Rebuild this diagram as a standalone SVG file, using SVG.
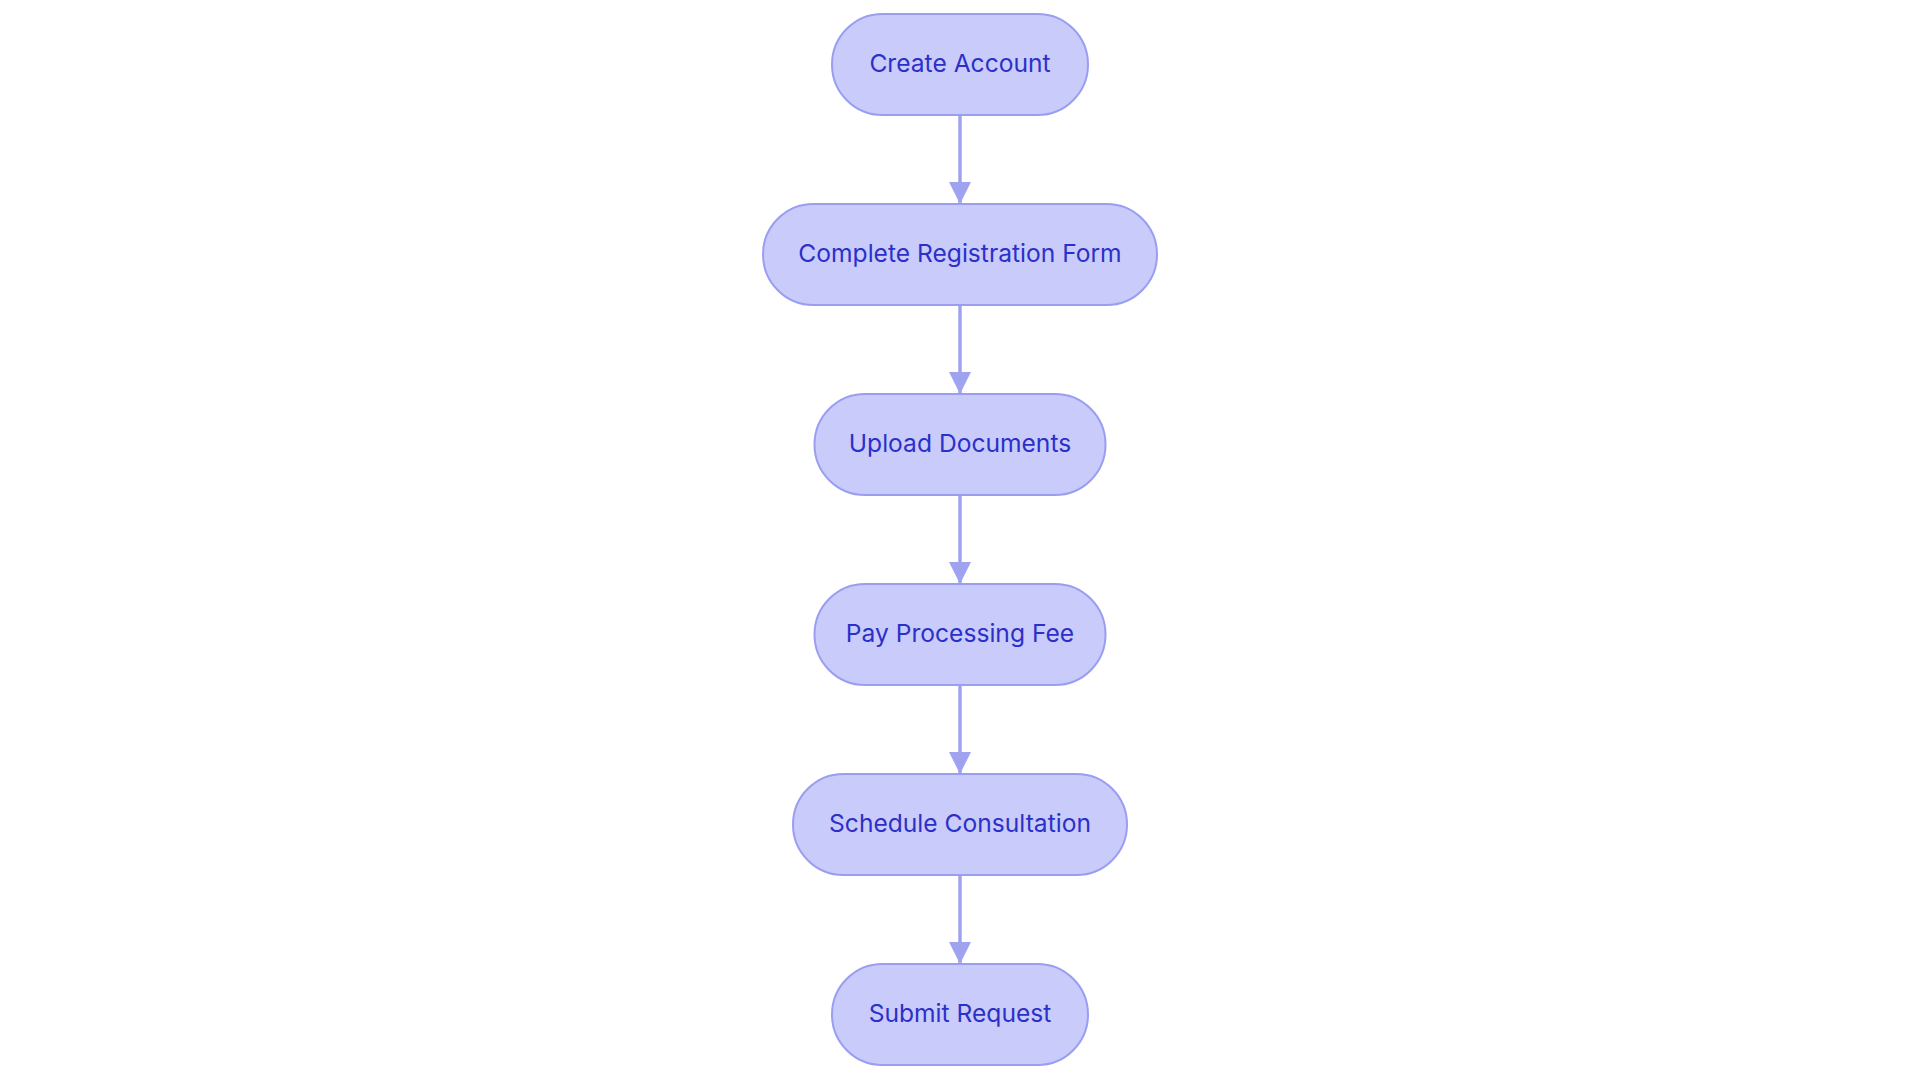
<svg xmlns="http://www.w3.org/2000/svg" width="1920" height="1083" viewBox="0 0 1920 1083">
<style>
.node rect{fill:#c9cbfb;stroke:#9a9ef0;stroke-width:2}
.node text{fill:#2b30c8;font-family:Inter,"Noto Sans",sans-serif;font-size:24.6px;font-weight:400;text-anchor:middle}
.edge{stroke:#9fa3ef;stroke-width:3.5;fill:none}
</style>
<defs>
<marker id="arrow" markerUnits="userSpaceOnUse" markerWidth="24" markerHeight="24" refX="22" refY="11" orient="auto">
<path d="M0,0 L22,11 L0,22 Z" fill="#9fa3ef"/>
</marker>
</defs>
<rect width="1920" height="1083" fill="#ffffff"/>
<g id="connectors">
<line class="edge" x1="960" y1="115" x2="960" y2="204" marker-end="url(#arrow)"/>
<line class="edge" x1="960" y1="305" x2="960" y2="394" marker-end="url(#arrow)"/>
<line class="edge" x1="960" y1="495" x2="960" y2="584" marker-end="url(#arrow)"/>
<line class="edge" x1="960" y1="685" x2="960" y2="774" marker-end="url(#arrow)"/>
<line class="edge" x1="960" y1="875" x2="960" y2="964" marker-end="url(#arrow)"/>
</g>
<g id="n1" class="node"><rect x="832" y="14" width="256" height="101" rx="50.5"/><text x="960" y="71.5">Create Account</text></g>
<g id="n2" class="node"><rect x="763" y="204" width="394" height="101" rx="50.5"/><text x="960" y="261.5">Complete Registration Form</text></g>
<g id="n3" class="node"><rect x="814.5" y="394" width="291" height="101" rx="50.5"/><text x="960" y="451.5">Upload Documents</text></g>
<g id="n4" class="node"><rect x="814.5" y="584" width="291" height="101" rx="50.5"/><text x="960" y="641.5">Pay Processing Fee</text></g>
<g id="n5" class="node"><rect x="793" y="774" width="334" height="101" rx="50.5"/><text x="960" y="831.5">Schedule Consultation</text></g>
<g id="n6" class="node"><rect x="832" y="964" width="256" height="101" rx="50.5"/><text x="960" y="1021.5">Submit Request</text></g>
</svg>
